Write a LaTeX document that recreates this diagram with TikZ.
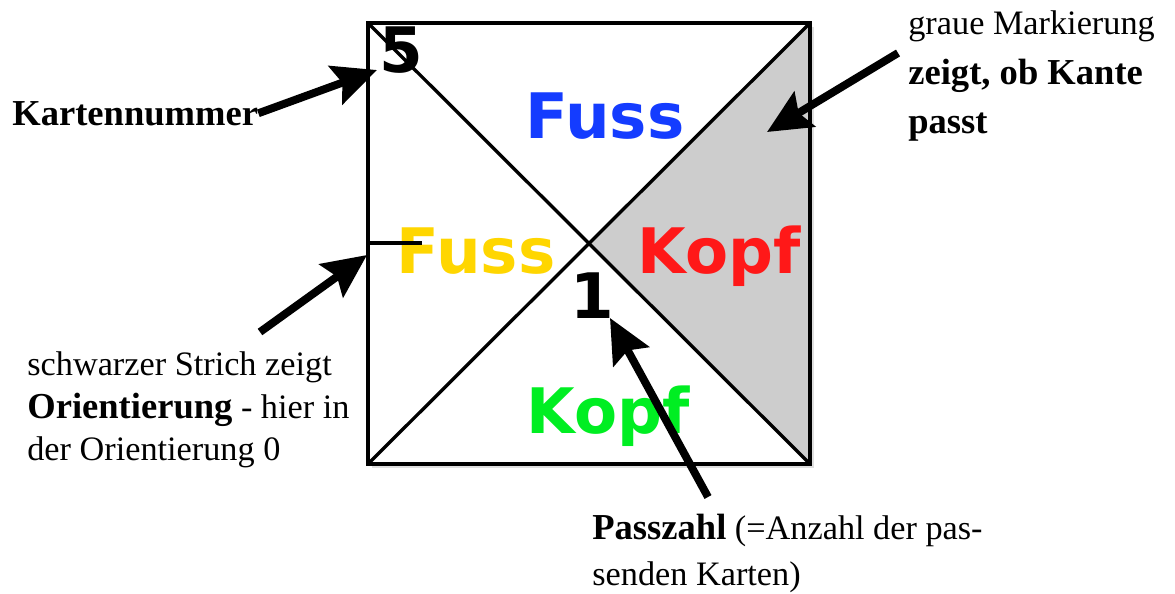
\documentclass[tikz,border=0pt]{standalone}
\usepackage{fontspec}
\setmainfont{Liberation Serif}[BoldFeatures={Scale=1.067}]
\newfontfamily\kartenfont{DejaVu Sans}
\usetikzlibrary{arrows.meta,shadows}

\definecolor{fussblau}{RGB}{20,60,255}
\definecolor{fussgelb}{RGB}{255,214,0}
\definecolor{kopfrot}{RGB}{255,24,24}
\definecolor{kopfgruen}{RGB}{0,238,34}
\definecolor{markgrau}{RGB}{205,205,205}

\begin{document}
\begin{tikzpicture}[x=0.02cm,y=-0.02cm,
    feld/.style={anchor=base,inner sep=0pt,font=\kartenfont\bfseries\fontsize{35.7}{40}\selectfont},
    erkl/.style={inner sep=0pt,align=left,font=\fontsize{19.5}{24.4}\selectfont},
    pfeil/.style={line width=4.5pt,-{Stealth[length=25pt,width=23pt,inset=4pt]}}]

            \useasboundingbox (0,0) rectangle (1175,593);

            % card with shadow
            \fill[white,drop shadow={shadow xshift=2.5pt,shadow yshift=-2.5pt,opacity=.25}](368,23) rectangle (810,464);
            % grey mark on the right edge
            \fill[markgrau](810,23) -- (810,464) -- (589,243.5) -- cycle;
            \draw[line width=1.9pt](368,23) -- (810,464);
            \draw[line width=1.9pt](368,464) -- (810,23);
            \draw[line width=2.6pt](368,23) rectangle (810,464);

            % edge labels
            \node[feld,text=fussblau] (oben) at (605,138) {Fuss};
            \node[feld,text=fussgelb] (links) at (476,273) {Fuss};
            \node[feld,text=kopfrot] (rechts) at (719,273) {Kopf};
            \node[feld,text=kopfgruen] (unten) at (608,433) {Kopf};
            \node[feld] (nummer) at (401,72) {5};
            \node[feld] (passzahl) at (592,318) {1};

            % orientation stroke
            \draw[line width=2.6pt](368,243) -- (422,243);

            % explanations
            \node[erkl,anchor=base west,font=\bfseries\fontsize{19.5}{24.4}\selectfont] (kartennr) at (12,125) {Kartennummer};
            \node[erkl,anchor=north west] (strich) at (27,351) {schwarzer Strich zeigt\\\textbf{Orientierung} - hier in\\der Orientierung 0};
            \node[erkl,anchor=north west,font=\fontsize{19.5}{28.4}\selectfont] (grau) at (908,10) {graue Markierung\\\textbf{zeigt, ob Kante}\\\textbf{passt}};
            \node[erkl,anchor=north west,font=\fontsize{19.5}{26}\selectfont] (pass) at (592,514) {\textbf{Passzahl} (=Anzahl der pas-\\senden Karten)};

            % arrows
            \coordinate (spitze5) at (377,70);
            \coordinate (grauanfang) at (898,53);
            \coordinate (spitzegrau) at (767,132);
            \coordinate (strichanfang) at (260,332);
            \coordinate (spitzestrich) at (367,255);
            \coordinate (passanfang) at (708,497);
            \coordinate (spitze1) at (610,318);
            \draw[pfeil](kartennr.east) -- (spitze5);
            \draw[pfeil](grauanfang) -- (spitzegrau);
            \draw[pfeil](strichanfang) -- (spitzestrich);
            \draw[pfeil](passanfang) -- (spitze1);
        \end{tikzpicture}
\end{document}
